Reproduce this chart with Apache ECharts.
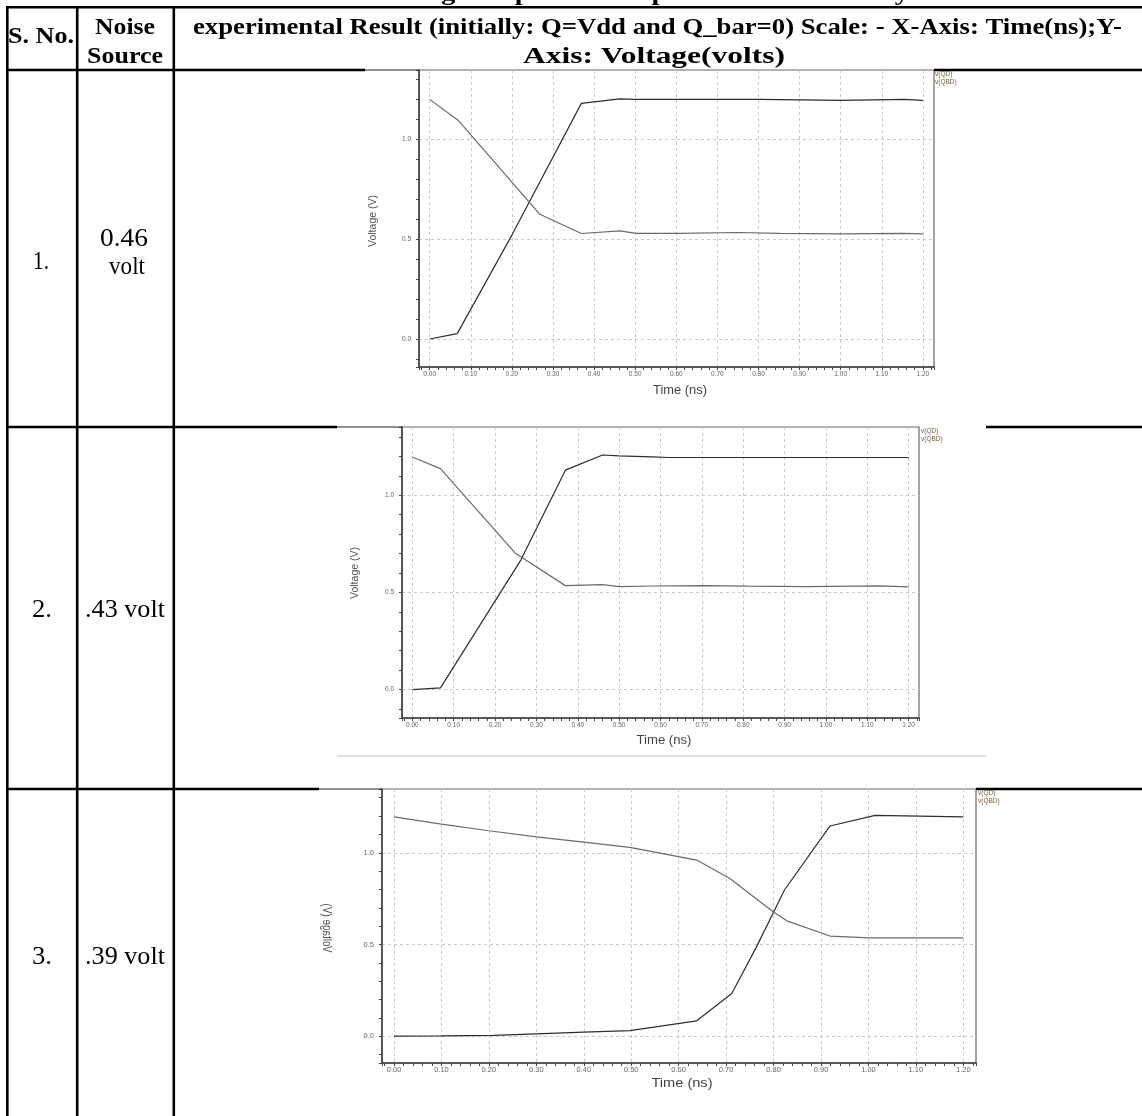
<!DOCTYPE html>
<html>
<head>
<meta charset="utf-8">
<script src="https://cdn.jsdelivr.net/npm/echarts@6/dist/echarts.min.js"></script>
<style>
html,body{margin:0;padding:0;background:#fff;}
#c{width:1142px;height:1116px;}
</style>
</head>
<body>
<div id="c"></div>
<script>
// ---------------- DATA ----------------
const seriesNames = ['v(QD)', 'v(QBD)'];
const serialNos = ['1.', '2.', '3.'];
const noiseSources = ['0.46 volt', '.43 volt', '.39 volt'];
const tableTitle = 'Table 8 Noise Voltage output state input of 9T SRAM Asymmetrical cell';
const headerSNo = 'S. No.';
const headerNoise = ['Noise', 'Source'];
const headerResult = ['experimental Result (initially: Q=Vdd and Q_bar=0) Scale: - X-Axis: Time(ns);Y-', 'Axis: Voltage(volts)'];
const xAxisTitle = 'Time (ns)';
const yAxisTitle = 'Voltage (V)';
const xTickLabels = ['0.00','0.10','0.20','0.30','0.40','0.50','0.60','0.70','0.80','0.90','1.00','1.10','1.20'];
const yTickLabels = ['0.0','0.5','1.0'];

// Chart 1 : noise 0.46 volt
const c1_qd_t  = [0, 0.067, 0.2, 0.369, 0.462, 0.5, 0.803, 0.806, 1.0, 1.003, 1.153, 1.156, 1.2];
const c1_qd_v  = [0, 0.027, 0.52, 1.179, 1.202, 1.199, 1.199, 1.194, 1.194, 1.199, 1.199, 1.194, 1.194];
const c1_qbd_t = [0, 0.069, 0.268, 0.369, 0.462, 0.503, 0.606, 0.609, 0.751, 0.754, 0.851, 0.854, 1.0, 1.003, 1.151, 1.154, 1.2];
const c1_qbd_v = [1.199, 1.095, 0.624, 0.528, 0.541, 0.529, 0.529, 0.533, 0.533, 0.529, 0.529, 0.526, 0.526, 0.529, 0.529, 0.526, 0.526];

// Chart 2 : noise .43 volt
const c2_qd_t  = [0, 0.068, 0.263, 0.37, 0.46, 0.5, 0.58, 0.62, 1.2];
const c2_qd_v  = [0, 0.009, 0.669, 1.129, 1.207, 1.202, 1.197, 1.194, 1.194];
const c2_qbd_t = [0, 0.068, 0.25, 0.37, 0.46, 0.5, 0.58, 0.705, 0.709, 0.81, 0.814, 0.955, 0.959, 1.128, 1.132, 1.2];
const c2_qbd_v = [1.197, 1.137, 0.70, 0.535, 0.54, 0.53, 0.533, 0.535, 0.532, 0.532, 0.53, 0.53, 0.534, 0.534, 0.529, 0.529];

// Chart 3 : noise .39 volt
const c3_qd_t  = [0, 0.1, 0.21, 0.3, 0.4, 0.497, 0.638, 0.712, 0.764, 0.823, 0.919, 1.014, 1.2];
const c3_qd_v  = [0, 0.002, 0.005, 0.013, 0.022, 0.03, 0.084, 0.233, 0.487, 0.797, 1.146, 1.204, 1.196];
const c3_qbd_t = [0, 0.1, 0.2, 0.3, 0.4, 0.497, 0.638, 0.708, 0.799, 0.828, 0.919, 1.003, 1.2];
const c3_qbd_v = [1.196, 1.156, 1.12, 1.087, 1.058, 1.029, 0.96, 0.86, 0.678, 0.629, 0.546, 0.536, 0.536];

// ---------------- LAYOUT ----------------
const SERIF = '"Liberation Serif", "Times New Roman", serif';
const SANS = '"Liberation Sans", Arial, sans-serif';

const panels = [
  {left:419, top:70, width:515, height:297, xMin:-0.026, xMax:1.227, yMin:-0.140, yMax:1.346,
   legendLeft:930, legendTop:71, vPos:[373,221], vLen:52, vSize:10.5, tPos:[680,391], tLen:54, tSize:12,
   tickSize:6.5, xMargin:4, mirror:false, qd:[c1_qd_t,c1_qd_v], qbd:[c1_qbd_t,c1_qbd_v]},
  {left:402, top:427, width:517, height:291, xMin:-0.025, xMax:1.225, yMin:-0.146, yMax:1.351,
   legendLeft:916, legendTop:428, vPos:[355,573], vLen:52, vSize:10.5, tPos:[664,741], tLen:55, tSize:12,
   tickSize:6.5, xMargin:4, mirror:false, qd:[c2_qd_t,c2_qd_v], qbd:[c2_qbd_t,c2_qbd_v]},
  {left:382, top:789, width:594, height:274, xMin:-0.0253, xMax:1.2267, yMin:-0.146, yMax:1.3475,
   legendLeft:973, legendTop:790, vPos:[327,928], vLen:49, vSize:13, tPos:[682,1083], tLen:61, tSize:13,
   tickSize:7.5, xMargin:3, mirror:true, qd:[c3_qd_t,c3_qd_v], qbd:[c3_qbd_t,c3_qbd_v]}
];

const measureCtx = document.createElement('canvas').getContext('2d');
function fitScale(text, size, weight, family, target) {
  measureCtx.font = weight + ' ' + size + 'px ' + family;
  const w = measureCtx.measureText(text).width;
  return w > 0 ? target / w : 1;
}
function tableText(text, cx, baseline, targetW, size, bold) {
  const weight = bold ? 'bold' : 'normal';
  return {type:'text', x:cx, y:baseline - 0.34 * size + 3, scaleX:fitScale(text, size, weight, SERIF, targetW),
    silent:true, z:10,
    style:{text:text, fontSize:size, fontWeight:weight, fontFamily:SERIF, fill:'#000', align:'center', verticalAlign:'middle'}};
}
function seg(x1, y1, x2, y2, w, c) {
  return {type:'line', shape:{x1:x1, y1:y1, x2:x2, y2:y2}, style:{stroke:c, lineWidth:w}, silent:true, z:5};
}
function xLabel(v) {
  const k = Math.round(v * 10);
  return (Math.abs(v - k / 10) < 1e-6 && k >= 0 && k < xTickLabels.length) ? xTickLabels[k] : '';
}
function yLabel(v) {
  const k = Math.round(v * 2);
  return (Math.abs(v - k / 2) < 1e-6 && k >= 0 && k < yTickLabels.length) ? yTickLabels[k] : '';
}
function zip(t, v) { return t.map((x, i) => [x, v[i]]); }

const grids = [], xAxes = [], yAxes = [], series = [], legends = [];
const gridLineStyle = {color:'#c9c9c9', width:1, type:[3, 3]};

panels.forEach((p, i) => {
  grids.push({left:p.left, top:p.top, width:p.width, height:p.height, show:true,
    borderColor:'#666', borderWidth:1.2, containLabel:false, outerBoundsMode:'none'});
  xAxes.push({gridIndex:i, type:'value', position:'bottom', min:p.xMin, max:p.xMax,
    minInterval:0.02, maxInterval:0.02,
    axisLine:{show:true, onZero:false, lineStyle:{color:'#3c3c3c', width:1.5}},
    axisTick:{show:true, inside:false, length:3, lineStyle:{color:'#444', width:1}},
    axisLabel:{show:true, margin:p.xMargin, fontSize:p.tickSize, color:'#666', fontFamily:SANS,
      formatter:xLabel, showMinLabel:true, showMaxLabel:true, hideOverlap:false},
    splitLine:{show:false}});
  xAxes.push({gridIndex:i, type:'value', position:'top', min:p.xMin, max:p.xMax,
    minInterval:0.1, maxInterval:0.1,
    axisLine:{show:false}, axisTick:{show:false}, axisLabel:{show:false},
    splitLine:{show:true, showMinLine:false, showMaxLine:false, lineStyle:gridLineStyle}});
  yAxes.push({gridIndex:i, type:'value', position:'left', min:p.yMin, max:p.yMax,
    minInterval:0.1, maxInterval:0.1,
    axisLine:{show:true, onZero:false, lineStyle:{color:'#3c3c3c', width:1.5}},
    axisTick:{show:true, inside:false, length:3, lineStyle:{color:'#444', width:1}},
    axisLabel:{show:true, margin:8, fontSize:p.tickSize, color:'#666', fontFamily:SANS,
      formatter:yLabel, hideOverlap:false},
    splitLine:{show:false}});
  yAxes.push({gridIndex:i, type:'value', position:'right', min:p.yMin, max:p.yMax,
    minInterval:0.5, maxInterval:0.5,
    axisLine:{show:false}, axisTick:{show:false}, axisLabel:{show:false},
    splitLine:{show:true, showMinLine:false, showMaxLine:false, lineStyle:gridLineStyle}});

  series.push({type:'line', name:seriesNames[0], xAxisIndex:2 * i, yAxisIndex:2 * i,
    data:zip(p.qd[0], p.qd[1]), showSymbol:false, symbol:'none', silent:true,
    lineStyle:{color:'#2e2e2e', width:1.2}, itemStyle:{color:'#2e2e2e'}, z:3});
  series.push({type:'line', name:seriesNames[1], xAxisIndex:2 * i, yAxisIndex:2 * i,
    data:zip(p.qbd[0], p.qbd[1]), showSymbol:false, symbol:'none', silent:true,
    lineStyle:{color:'#6a6a6a', width:1.2}, itemStyle:{color:'#6a6a6a'}, z:3});

  legends.push({data:seriesNames.slice(), left:p.legendLeft, top:p.legendTop, orient:'vertical',
    icon:'none', itemWidth:0, itemHeight:6, itemGap:1, padding:0, selectedMode:false,
    textStyle:{fontSize:6.5, color:'#7a5c3a', fontFamily:SANS}});
});

// ---------------- GRAPHIC (table, titles) ----------------
const g = [];
const TW = 2.6, BL = '#000';
g.push(seg(7, 7.3, 1142, 7.3, TW, BL));
g.push(seg(7, 70, 365, 70, TW, BL));
g.push(seg(934, 70, 1142, 70, TW, BL));
g.push(seg(365, 70, 419, 70, 1, '#222'));
g.push(seg(7, 427, 337, 427, TW, BL));
g.push(seg(986, 427, 1142, 427, TW, BL));
g.push(seg(337, 427, 402, 427, 1, '#222'));
g.push(seg(7, 789, 319, 789, TW, BL));
g.push(seg(976, 789, 1142, 789, TW, BL));
g.push(seg(319, 789, 382, 789, 1, '#222'));
g.push(seg(7.3, 6, 7.3, 1116, TW, BL));
g.push(seg(77.2, 6, 77.2, 1116, TW, BL));
g.push(seg(173.8, 6, 173.8, 1116, TW, BL));
g.push(seg(337, 756, 986, 756, 2, '#e3e3e3'));

// header texts
g.push(tableText(tableTitle, 645, -1, 876, 24, true));
g.push(tableText(headerSNo, 41, 42, 66, 23, true));
g.push(tableText(headerNoise[0], 125, 33, 60, 24, true));
g.push(tableText(headerNoise[1], 125, 62, 76, 24, true));
g.push(tableText(headerResult[0], 657.5, 33, 929, 24, true));
g.push(tableText(headerResult[1], 654, 62, 262, 24, true));

// row texts
g.push(tableText(serialNos[0], 41, 268, 16, 25, false));
const ns0 = noiseSources[0].split(' ');
g.push(tableText(ns0[0], 124, 245, 48, 25, false));
g.push(tableText(ns0[1], 127, 273, 36, 26, false));
g.push(tableText(serialNos[1], 42, 616, 20, 25, false));
g.push(tableText(noiseSources[1], 125, 616, 80, 25, false));
g.push(tableText(serialNos[2], 42, 963, 20, 25, false));
g.push(tableText(noiseSources[2], 125, 963, 80, 25, false));

// axis titles
panels.forEach(p => {
  g.push({type:'text', x:p.vPos[0], y:p.vPos[1], rotation:Math.PI / 2,
    scaleX:fitScale(yAxisTitle, p.vSize, 'normal', SANS, p.vLen), scaleY:p.mirror ? -1 : 1,
    silent:true, z:10,
    style:{text:yAxisTitle, fontSize:p.vSize, fontFamily:SANS, fill:'#555', align:'center', verticalAlign:'middle'}});
  g.push({type:'text', x:p.tPos[0], y:p.tPos[1],
    scaleX:fitScale(xAxisTitle, p.tSize, 'normal', SANS, p.tLen),
    silent:true, z:10,
    style:{text:xAxisTitle, fontSize:p.tSize, fontFamily:SANS, fill:'#444', align:'center', verticalAlign:'middle'}});
});

const chart = echarts.init(document.getElementById('c'), null, {renderer:'canvas', width:1142, height:1116});
chart.setOption({
  animation:false,
  backgroundColor:'#fff',
  grid:grids,
  xAxis:xAxes,
  yAxis:yAxes,
  legend:legends,
  series:series,
  graphic:{elements:g}
});
</script>
</body>
</html>
